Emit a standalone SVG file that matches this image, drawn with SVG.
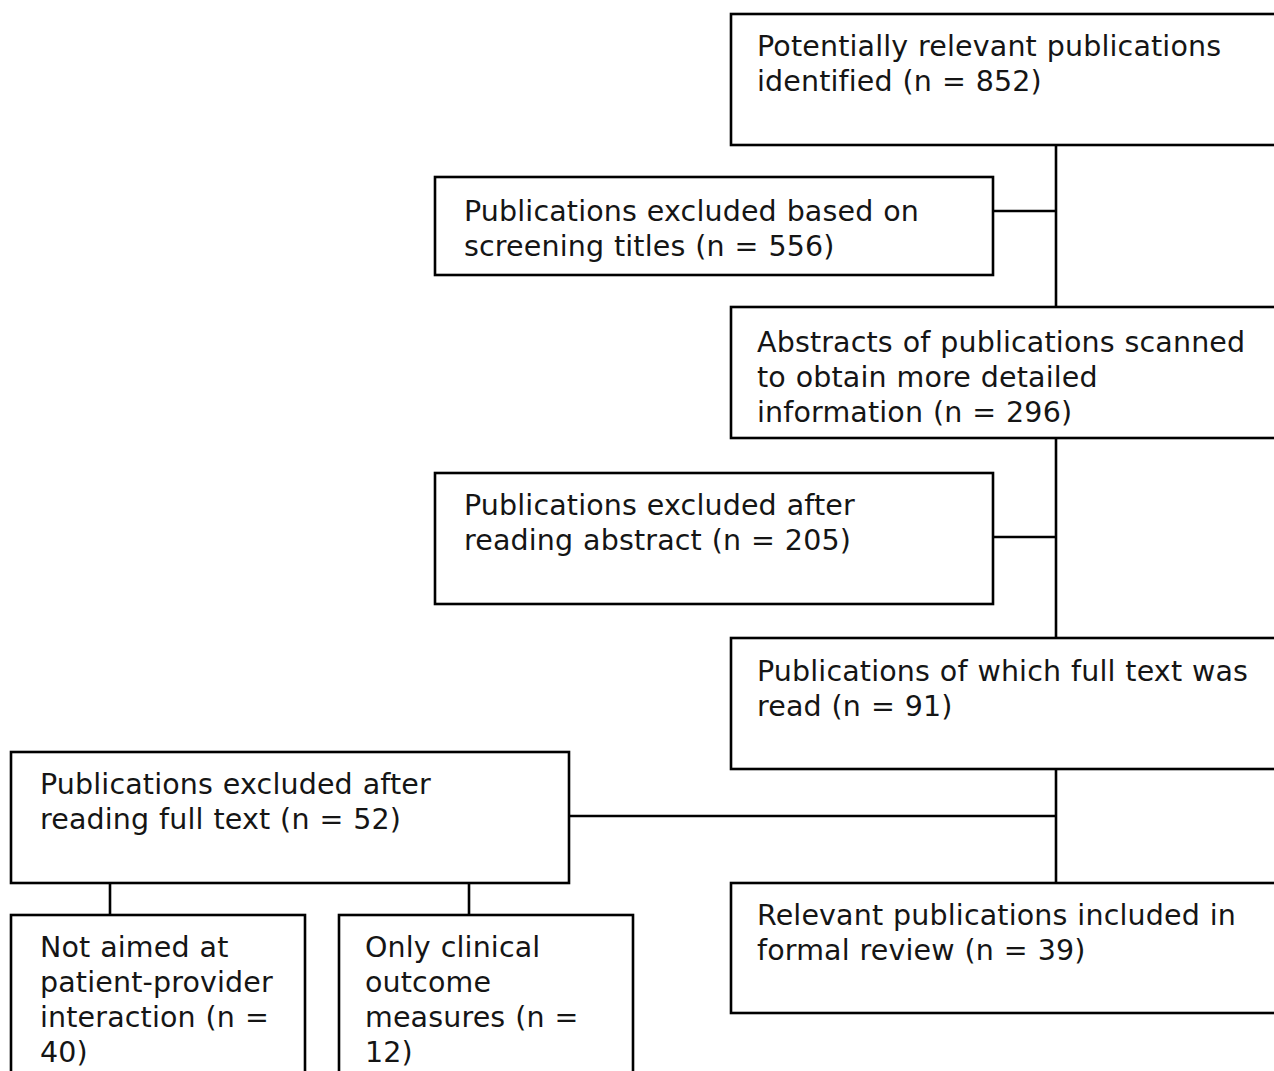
<svg xmlns="http://www.w3.org/2000/svg" width="1274" height="1071" viewBox="0 0 1274 1071">
<style>
.box{fill:#fff;stroke:#000;stroke-width:2.6}
.t{font-family:"DejaVu Sans",Verdana,sans-serif;font-size:28.5px;fill:#151515;letter-spacing:0.15px;word-spacing:0.6px}
.c{stroke:#000;stroke-width:2.6;fill:none}
</style>
<rect width="1274" height="1071" fill="#fff"/>
<g id="connectors">
<line class="c" x1="1056" y1="145" x2="1056" y2="307"/>
<line class="c" x1="993" y1="211" x2="1056" y2="211"/>
<line class="c" x1="1056" y1="438" x2="1056" y2="638"/>
<line class="c" x1="993" y1="537" x2="1056" y2="537"/>
<line class="c" x1="1056" y1="766" x2="1056" y2="883"/>
<line class="c" x1="569" y1="816" x2="1056" y2="816"/>
<line class="c" x1="110" y1="883" x2="110" y2="915"/>
<line class="c" x1="469" y1="883" x2="469" y2="915"/>
</g>
<g id="n1"><rect class="box" x="731" y="14" width="560" height="131"/>
<text class="t" x="757" y="56">Potentially relevant publications</text>
<text class="t" x="757" y="91">identified (n = 852)</text></g>
<g id="n2"><rect class="box" x="435" y="177" width="558" height="98"/>
<text class="t" x="464" y="221">Publications excluded based on</text>
<text class="t" x="464" y="256">screening titles (n = 556)</text></g>
<g id="n3"><rect class="box" x="731" y="307" width="560" height="131"/>
<text class="t" x="757" y="352">Abstracts of publications scanned</text>
<text class="t" x="757" y="387">to obtain more detailed</text>
<text class="t" x="757" y="422">information (n = 296)</text></g>
<g id="n4"><rect class="box" x="435" y="473" width="558" height="131"/>
<text class="t" x="464" y="515">Publications excluded after</text>
<text class="t" x="464" y="550">reading abstract (n = 205)</text></g>
<g id="n5"><rect class="box" x="731" y="638" width="560" height="131"/>
<text class="t" x="757" y="681">Publications of which full text was</text>
<text class="t" x="757" y="716">read (n = 91)</text></g>
<g id="n6"><rect class="box" x="11" y="752" width="558" height="131"/>
<text class="t" x="40" y="794">Publications excluded after</text>
<text class="t" x="40" y="829">reading full text (n = 52)</text></g>
<g id="n7"><rect class="box" x="731" y="883" width="560" height="130"/>
<text class="t" x="757" y="925">Relevant publications included in</text>
<text class="t" x="757" y="960">formal review (n = 39)</text></g>
<g id="n8"><rect class="box" x="11" y="915" width="294" height="170"/>
<text class="t" x="40" y="957">Not aimed at</text>
<text class="t" x="40" y="992">patient-provider</text>
<text class="t" x="40" y="1027">interaction (n =</text>
<text class="t" x="40" y="1062">40)</text></g>
<g id="n9"><rect class="box" x="339" y="915" width="294" height="170"/>
<text class="t" x="365" y="957">Only clinical</text>
<text class="t" x="365" y="992">outcome</text>
<text class="t" x="365" y="1027">measures (n =</text>
<text class="t" x="365" y="1062">12)</text></g>
</svg>
